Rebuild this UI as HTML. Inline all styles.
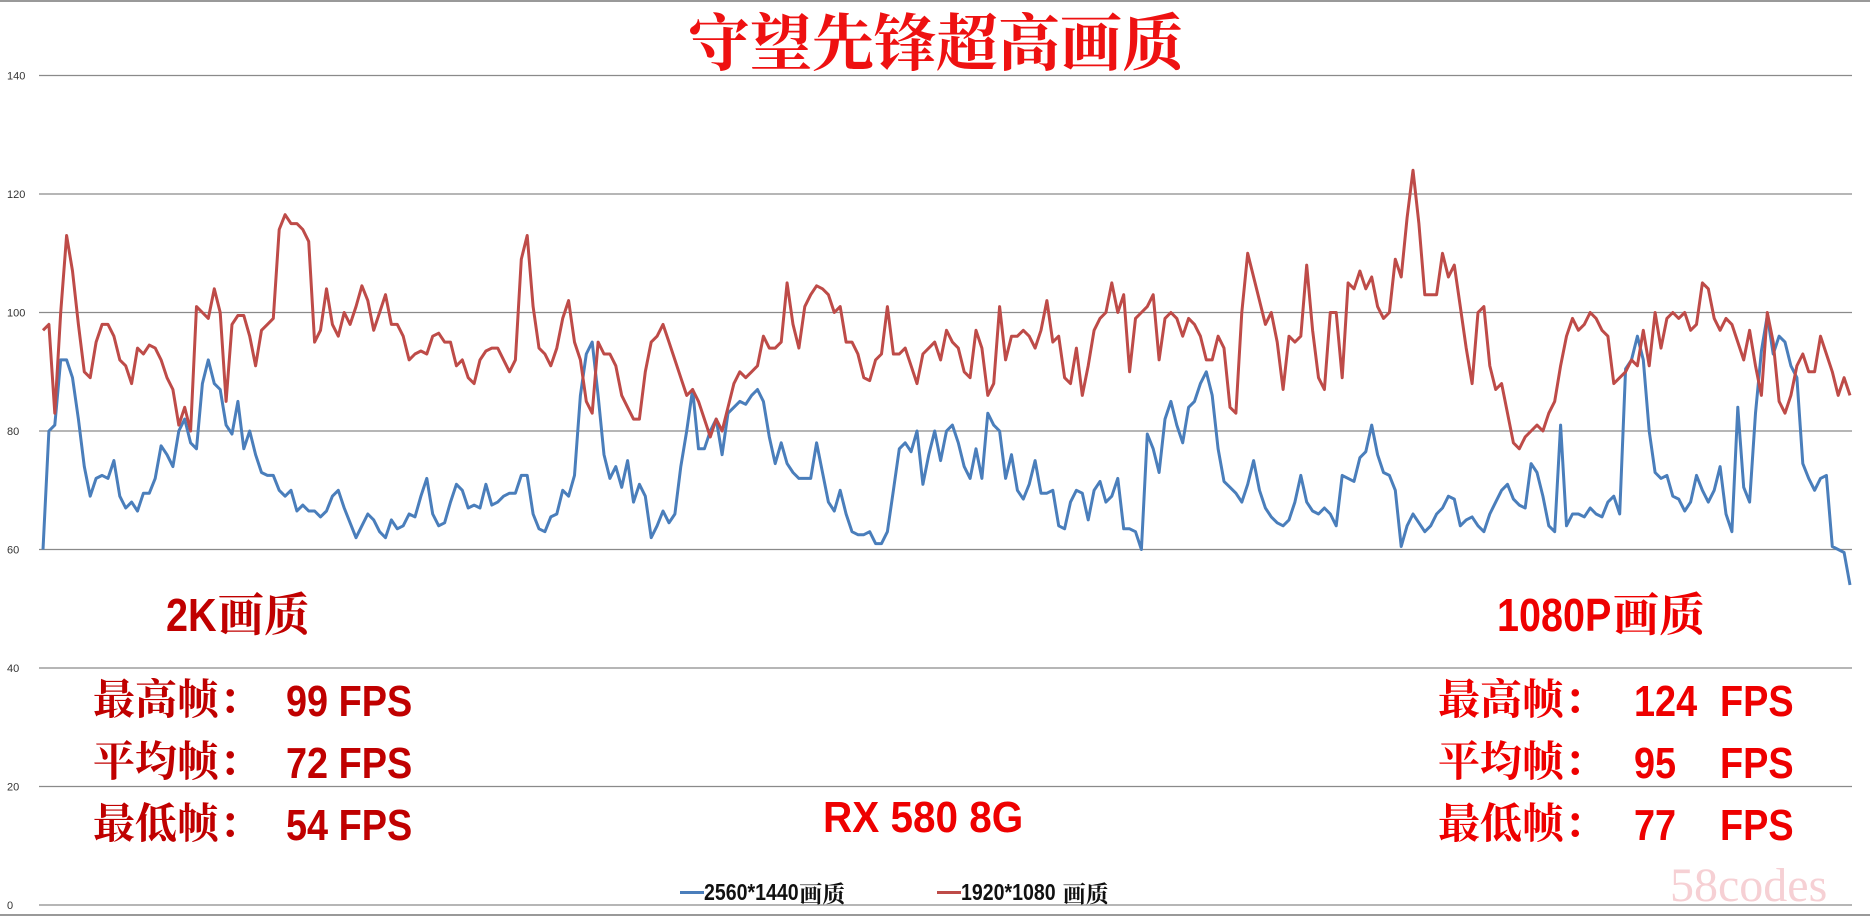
<!DOCTYPE html>
<html><head><meta charset="utf-8"><style>
body{margin:0;background:#fff;width:1870px;height:920px;overflow:hidden;position:relative;font-family:"Liberation Sans","Noto Sans CJK SC",sans-serif}
.t{position:absolute;white-space:nowrap;line-height:1}
.s{font-family:"Liberation Serif","Noto Serif CJK SC",serif;font-weight:bold}
.n{font-family:"Liberation Sans",sans-serif;font-weight:bold;display:inline-block;transform-origin:0 50%}
.c{transform:scaleX(0.86)}
</style></head><body>
<div style="position:absolute;left:0;top:0;width:1870px;height:2px;background:#999"></div>
<svg id="chart" width="1870" height="920" style="position:absolute;left:0;top:0"></svg>
<div class="t s" style="left:0;width:1872px;text-align:center;top:14px;font-size:62px;color:#ee1111">守望先锋超高画质</div>
<div class="t s" style="left:166px;top:592px;font-size:46px;color:#c00000"><span class="n c" style="margin-right:-7px">2K</span>画质</div>
<div class="t s" style="left:1497px;top:592px;font-size:46px;color:#ee0000"><span class="n c" style="margin-right:-17px">1080P</span>画质</div>
<div class="t s" style="left:93px;top:680px;font-size:42px;color:#c00000">最高帧：<span class="n c" style="position:absolute;left:193px;font-size:44px">99 FPS</span></div>
<div class="t s" style="left:93px;top:742px;font-size:42px;color:#c00000">平均帧：<span class="n c" style="position:absolute;left:193px;font-size:44px">72 FPS</span></div>
<div class="t s" style="left:93px;top:804px;font-size:42px;color:#c00000">最低帧：<span class="n c" style="position:absolute;left:193px;font-size:44px">54 FPS</span></div>
<div class="t s" style="left:1438px;top:680px;font-size:42px;color:#ee0000">最高帧：<span class="n c" style="position:absolute;left:196px;font-size:44px">124</span><span class="n c" style="position:absolute;left:282px;font-size:44px">FPS</span></div>
<div class="t s" style="left:1438px;top:742px;font-size:42px;color:#ee0000">平均帧：<span class="n c" style="position:absolute;left:196px;font-size:44px">95</span><span class="n c" style="position:absolute;left:282px;font-size:44px">FPS</span></div>
<div class="t s" style="left:1438px;top:804px;font-size:42px;color:#ee0000">最低帧：<span class="n c" style="position:absolute;left:196px;font-size:44px">77</span><span class="n c" style="position:absolute;left:282px;font-size:44px">FPS</span></div>
<div class="t" style="left:823px;top:796px;font-size:44px;color:#ee0000"><span class="n" style="transform:scaleX(0.92)">RX 580 8G</span></div>
<div style="position:absolute;left:680px;top:876px;height:26px">
<div style="position:absolute;left:0;top:0;white-space:nowrap"><span style="display:inline-block;width:24px;height:3px;background:#4a7ebb;vertical-align:middle"></span><span class="n" style="font-size:23px;color:#111;vertical-align:middle;transform:scaleX(0.85);margin-right:-16px">2560*1440</span><span class="s" style="font-size:23px;color:#111;vertical-align:middle">画质</span></div>
<div style="position:absolute;left:257px;top:0;white-space:nowrap"><span style="display:inline-block;width:24px;height:3px;background:#be4b48;vertical-align:middle"></span><span class="n" style="font-size:23px;color:#111;vertical-align:middle;transform:scaleX(0.85);margin-right:-16px">1920*1080&nbsp;</span><span class="s" style="font-size:23px;color:#111;vertical-align:middle">画质</span></div>
</div>
<div class="t" style="left:1670px;top:862px;font-size:48px;font-family:'Liberation Serif',serif;color:#f6d0d4">58codes</div>
<script>
const yTicks=[0,20,40,60,80,100,120,140];
const red=[97,98,83,100,113,107,98,90,89,95,98,98,96,92,91,88,94,93,94.5,94,92,89,87,81,84,80,101,100,99,104,100,85,98,99.5,99.5,96,91,97,98,99,114,116.5,115,115,114,112,95,97,104,98,96,100,98,101,104.5,102,97,100,103,98,98,96,92,93,93.5,93,96,96.5,95,95,91,92,89,88,92,93.5,94,94,92,90,92,109,113,101,94,93,91,94,99,102,95,92,85,83,95,93,93,91,86,84,82,82,90,95,96,98,95,92,89,86,87,85,82,79,82,80,84,88,90,89,90,91,96,94,94,95,105,98,94,101,103,104.5,104,103,100,101,95,95,93,89,88.5,92,93,101,93,93,94,91,88,93,94,95,92,97,95,94,90,89,97,94,86,88,101,92,96,96,97,96,94,97,102,95,96,89,88,94,86,91,97,99,100,105,100,103,90,99,100,101,103,92,99,100,99,96,99,98,96,92,92,96,94,84,83,100,110,106,102,98,100,95,87,96,95,96,108,97,89,87,100,100,89,105,104,107,104,106,101,99,100,109,106,116,124,115,103,103,103,110,106,108,101,94,88,100,101,91,87,88,83,78,77,79,80,81,80,83,85,91,96,99,97,98,100,99,97,96,88,89,90,92,91,97,91,100,94,99,100,99,100,97,98,105,104,99,97,99,98,95,92,97,91,86,100,95,85,83,86,91,93,90,90,96,93,90,86,89,86];
const blue=[60,80,81,92,92,89,82,74,69,72,72.5,72,75,69,67,68,66.5,69.5,69.5,72,77.5,76,74,80,82,78,77,88,92,88,87,81,79.5,85,77,80,76,73,72.5,72.5,70,69,70,66.5,67.5,66.5,66.5,65.5,66.5,69,70,67,64.5,62,64,66,65,63,62,65,63.5,64,66,65.5,69,72,66,64,64.5,68,71,70,67,67.5,67,71,67.5,68,69,69.5,69.5,72.5,72.5,66,63.5,63,65.5,66,70,69,72.5,86,93,95,86,76,72,74,70.5,75,68,71,69,62,64,66.5,64.5,66,74,80,87,77,77,80,82,76,83,84,85,84.5,86,87,85,79,74.5,78,74.5,73,72,72,72,78,73,68,66.5,70,66,63,62.5,62.5,63,61,61,63,70,77,78,76.5,80,71,76,80,75,80,81,78,74,72,77,72,83,81,80,72,76,70,68.5,71,75,69.5,69.5,70,64,63.5,68,70,69.5,65,70,71.5,68,69,72,63.5,63.5,63,60,79.5,77,73,82,85,81,78,84,85,88,90,86,77,71.5,70.5,69.5,68,71,75,70,67,65.5,64.5,64,65,68,72.5,68,66.5,66,67,66,64,72.5,72,71.5,75.5,76.5,81,76,73,72.5,70,60.5,64,66,64.5,63,64,66,67,69,68.5,64,65,65.5,64,63,66,68,70,71,68.5,67.5,67,74.5,73,69,64,63,81,64,66,66,65.5,67,66,65.5,68,69,66,90.5,92,96,92,80,73,72,72.5,69,68.5,66.5,68,72.5,70,68,70,74,66,63,84,70.5,68,83,93.5,99.5,93,96,95,91,89,74.5,72,70,72,72.5,60.5,60,59.5,54];
const NS='http://www.w3.org/2000/svg';
const svg=document.getElementById('chart');
const X0=43,X1=1850,GX0=39,GX1=1852,Y0=905,Y140=75.5;
function yScale(v){return Y0-(v/140)*(Y0-Y140);}
function xScale(i,n){return X0+(X1-X0)*i/(n-1);}
yTicks.forEach(t=>{
  const l=document.createElementNS(NS,'line');
  
  
  l.setAttribute('x1',GX0);l.setAttribute('x2',GX1);
  l.setAttribute('y1',yScale(t));l.setAttribute('y2',yScale(t));
  l.setAttribute('stroke','#8a8a8a');l.setAttribute('stroke-width','1.2');
  svg.appendChild(l);
  const tx=document.createElementNS(NS,'text');
  
  
  tx.setAttribute('x',7);tx.setAttribute('y',yScale(t)+4);
  tx.setAttribute('font-size','11');tx.setAttribute('fill','#333');
  tx.setAttribute('font-family','Liberation Sans, sans-serif');
  tx.textContent=t;svg.appendChild(tx);
});
function drawSeries(arr,color,name){
  const p=document.createElementNS(NS,'polyline');
  
  
  p.setAttribute('points',arr.map((v,i)=>xScale(i,arr.length).toFixed(1)+','+yScale(v).toFixed(1)).join(' '));
  p.setAttribute('fill','none');p.setAttribute('stroke',color);
  p.setAttribute('stroke-width','3');p.setAttribute('stroke-linejoin','round');
  svg.appendChild(p);
}
drawSeries(blue,'#4a7ebb','series-2560x1440');
drawSeries(red,'#be4b48','series-1920x1080');
const b=document.createElementNS(NS,'line');


b.setAttribute('x1',0);b.setAttribute('x2',1870);b.setAttribute('y1',915);b.setAttribute('y2',915);
b.setAttribute('stroke','#999');b.setAttribute('stroke-width','2');
svg.appendChild(b);
</script>
</body></html>
